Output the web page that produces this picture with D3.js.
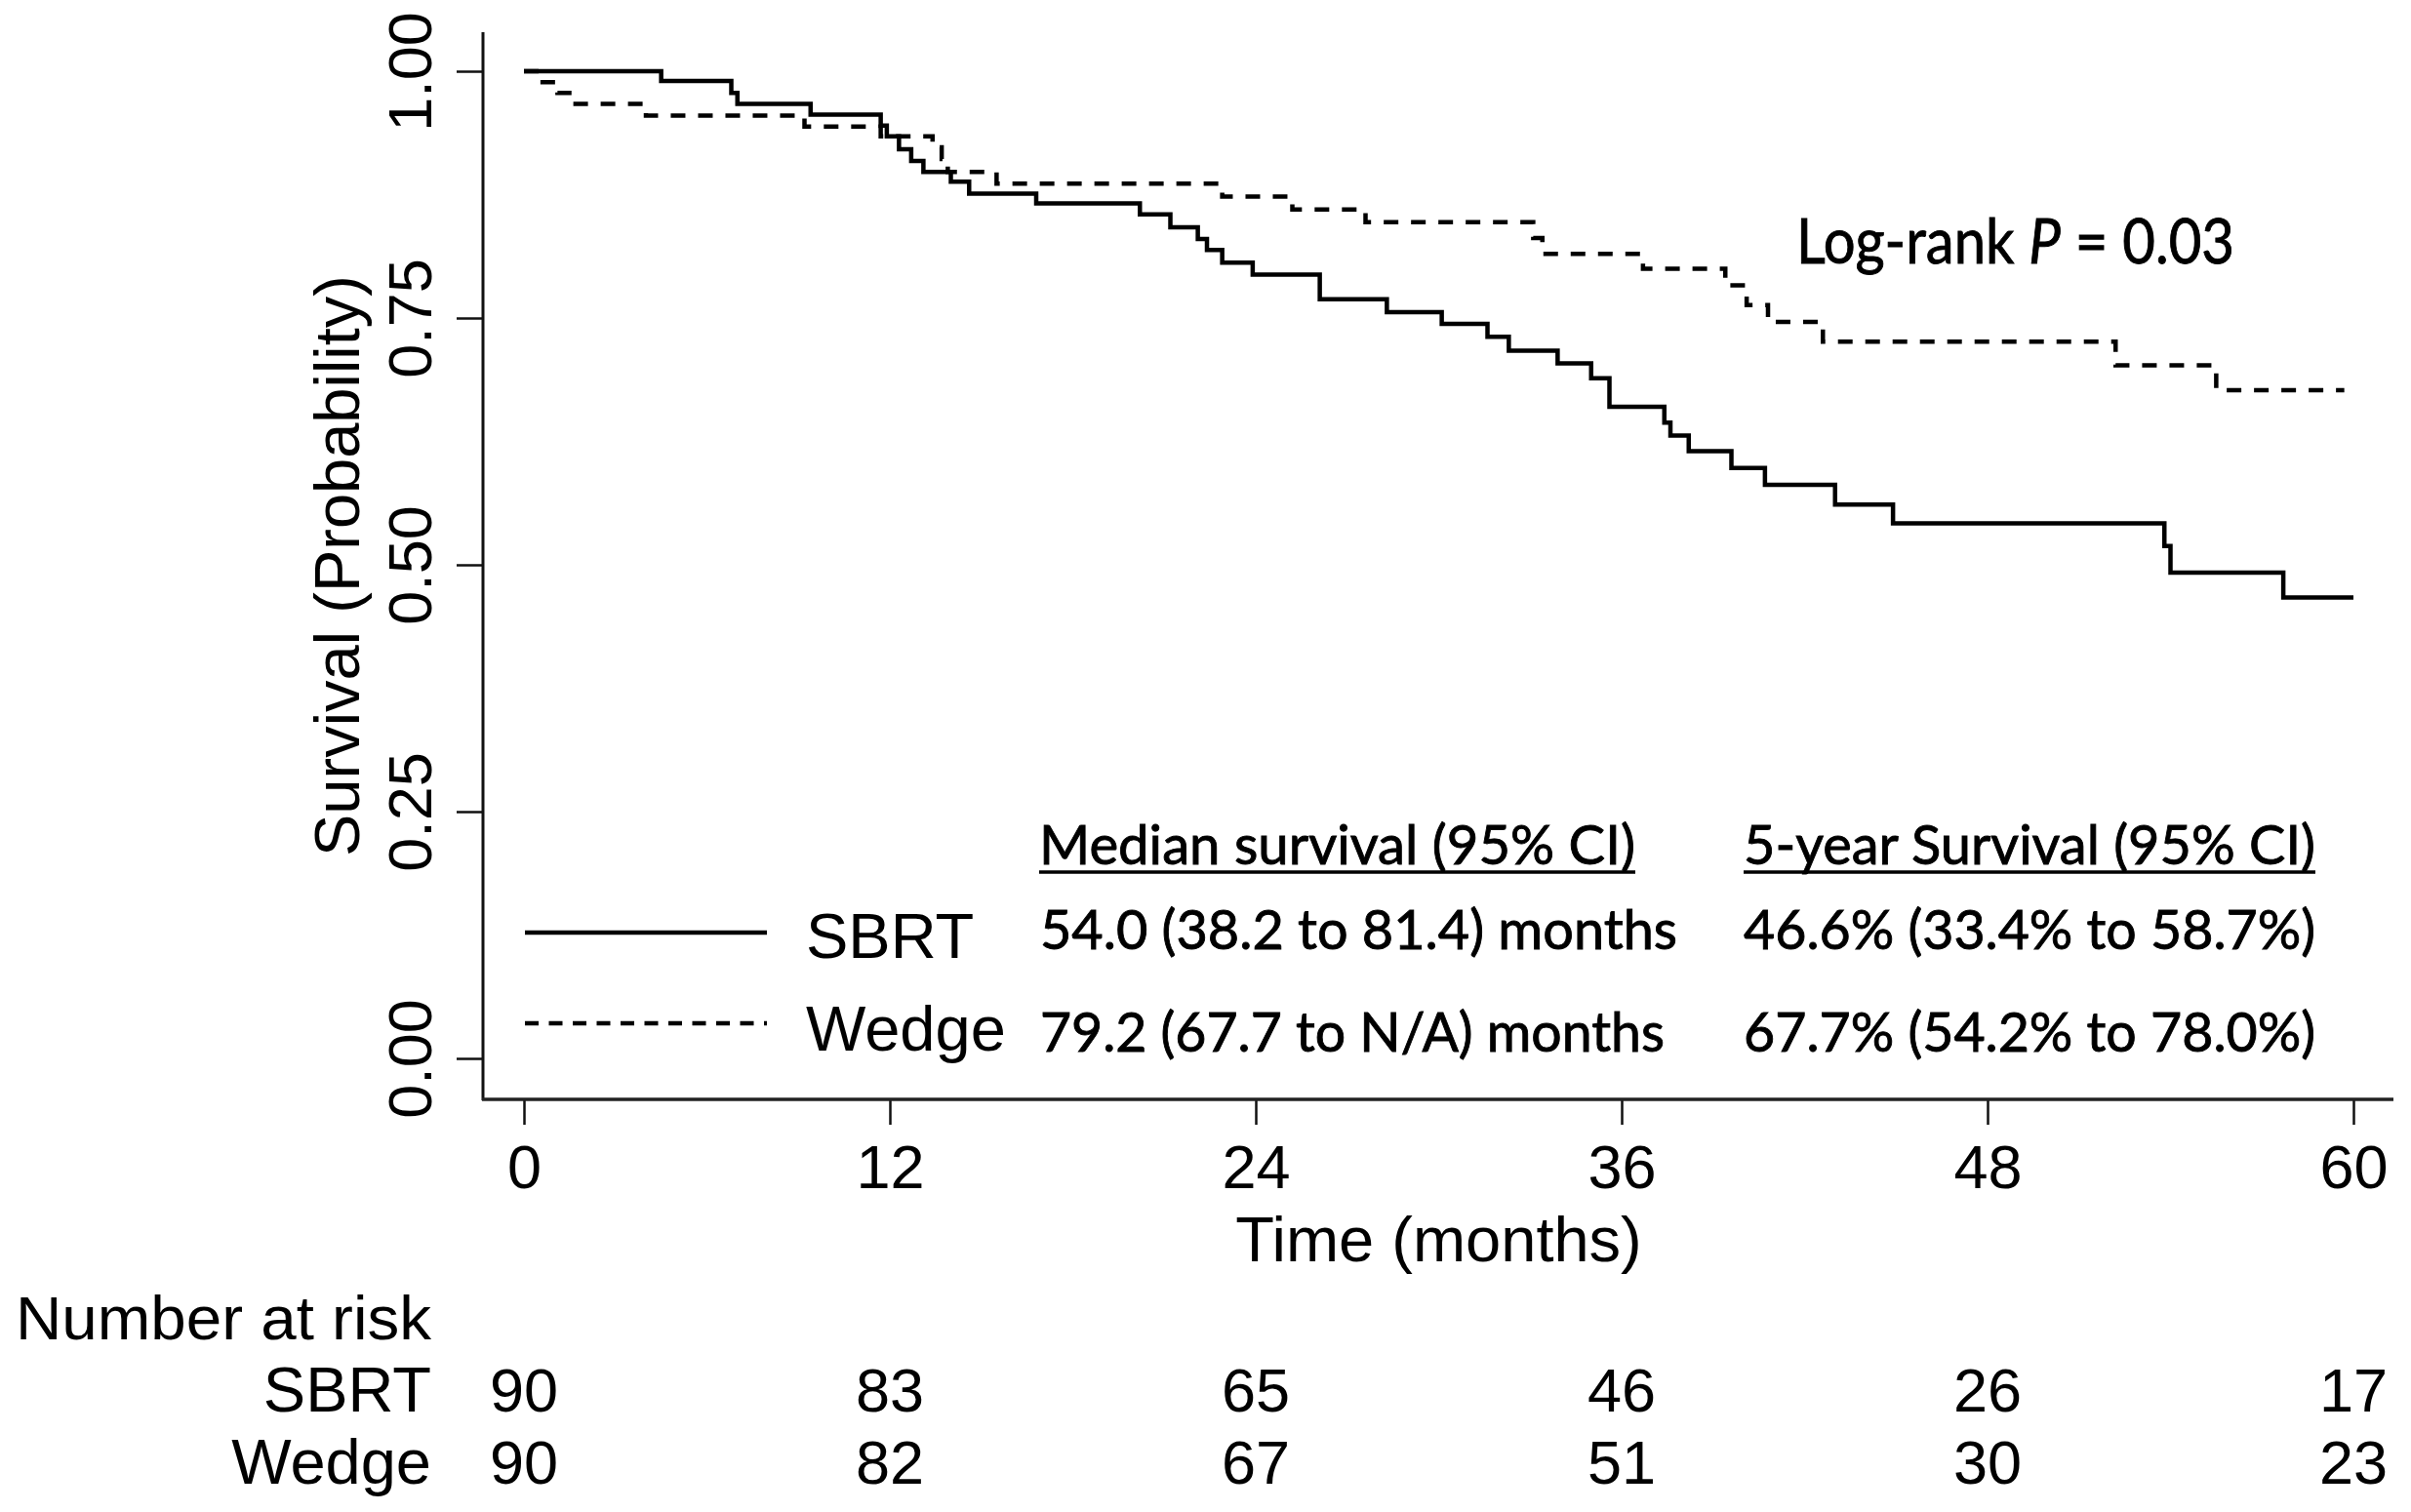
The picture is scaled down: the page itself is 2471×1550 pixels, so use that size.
<!DOCTYPE html>
<html>
<head>
<meta charset="utf-8">
<script src="https://cdn.jsdelivr.net/npm/d3@7"></script>
<style>
  body { margin: 0; background: #fff; }
  svg { display: block; }
</style>
</head>
<body>
<svg></svg>
<script>
// Defining variables
const width = 2471
const height = 1550

// Kaplan-Meier steps (months, survival probability)
const sbrtTimes = [0, 4.5, 6.8, 7.0, 9.4, 11.7, 11.9, 12.3, 12.7, 13.1, 14.0, 14.6, 16.8, 20.2, 21.2, 22.1, 22.4, 22.9, 23.9, 26.1, 28.3, 30.1, 31.6, 32.3, 33.9, 35.0, 35.6, 37.4, 37.6, 38.2, 39.6, 40.7, 43.0, 44.9, 53.8, 54.0, 57.7, 60.0]
const sbrtSurv = [1, 0.990, 0.978, 0.967, 0.956, 0.945, 0.934, 0.921, 0.909, 0.898, 0.888, 0.876, 0.866, 0.855, 0.842, 0.830, 0.819, 0.806, 0.794, 0.769, 0.756, 0.744, 0.731, 0.717, 0.704, 0.689, 0.660, 0.644, 0.631, 0.615, 0.598, 0.581, 0.561, 0.542, 0.519, 0.492, 0.467, 0.467]

const wedgeTimes = [0, 0.5, 1.1, 1.6, 4.0, 9.2, 11.7, 13.4, 13.7, 13.9, 15.5, 22.9, 25.2, 27.6, 33.1, 33.4, 36.7, 39.4, 40.1, 40.8, 42.6, 52.2, 55.5, 59.7]
const wedgeSurv = [1, 0.989, 0.978, 0.967, 0.955, 0.944, 0.934, 0.923, 0.911, 0.898, 0.886, 0.873, 0.860, 0.847, 0.831, 0.815, 0.800, 0.783, 0.763, 0.746, 0.726, 0.702, 0.677, 0.677]

const xTicks = [0, 12, 24, 36, 48, 60]
const yTicks = [0, 0.25, 0.5, 0.75, 1]

const groups = ['SBRT', 'Wedge']
const riskSBRT = [90, 83, 65, 46, 26, 17]
const riskWedge = [90, 82, 67, 51, 30, 23]

const tableHeaders = ['Median survival (95% CI)', '5-year Survival (95% CI)']
const medianText = ['54.0 (38.2 to 81.4) months', '79.2 (67.7 to N/A) months']
const fiveYearText = ['46.6% (33.4% to 58.7%)', '67.7% (54.2% to 78.0%)']

const helv = 'Liberation Sans, Arial, Helvetica, sans-serif'
const cal = 'Lato, Carlito, Calibri, sans-serif'

// Creating svg canvas
const svg = d3.select('svg')
              .attr('width', width)
              .attr('height', height)

svg.append('rect').attr('width', width).attr('height', height).attr('fill', '#fff')

// Scales
const xScale = d3.scaleLinear().domain([0, 60]).range([537, 2412])
const yScale = d3.scaleLinear().domain([0, 1]).range([1085, 73])

// Axes
let xAxis = d3.axisBottom(xScale).tickValues(xTicks).tickSize(25).tickSizeOuter(0)
svg.append('g')
    .attr('transform', 'translate(0, 1128)')
    .call(xAxis)
    .call(g => g.select('.domain').remove())
    .call(g => g.selectAll('line').attr('stroke', '#111').attr('stroke-width', 2.5))
    .call(g => g.selectAll('text')
        .attr('dy', null)
        .attr('y', 90)
        .attr('fill', '#000')
        .style('font-family', helv)
        .style('font-size', '63px'))

let yAxis = d3.axisLeft(yScale).tickValues(yTicks).tickSize(27).tickSizeOuter(0).tickFormat(d3.format('.2f'))
svg.append('g')
    .attr('transform', 'translate(495, 0)')
    .call(yAxis)
    .call(g => g.select('.domain').remove())
    .call(g => g.selectAll('line').attr('stroke', '#111').attr('stroke-width', 2.5))
    .call(g => g.selectAll('text')
        .attr('x', null)
        .attr('dy', null)
        .attr('text-anchor', 'middle')
        .attr('transform', 'translate(-53, 0) rotate(-90)')
        .attr('fill', '#000')
        .style('font-family', helv)
        .style('font-size', '63px'))

// axis lines
svg.append('line').attr('x1', 495).attr('x2', 495).attr('y1', 33).attr('y2', 1128)
    .attr('stroke', '#111').attr('stroke-width', 3)
svg.append('line').attr('x1', 494).attr('x2', 2453).attr('y1', 1127).attr('y2', 1127)
    .attr('stroke', '#222').attr('stroke-width', 3.5)

// axis titles
svg.append('text')
    .attr('transform', 'translate(368, 580) rotate(-90)')
    .attr('text-anchor', 'middle')
    .style('font-family', helv).style('font-size', '65px')
    .text('Survival (Probability)')

svg.append('text')
    .attr('x', xScale(30)).attr('y', 1293)
    .attr('text-anchor', 'middle')
    .style('font-family', helv).style('font-size', '65px')
    .text('Time (months)')

// survival curves
let stepLine = d3.line()
    .x(d => xScale(d[0]))
    .y(d => yScale(d[1]))
    .curve(d3.curveStepAfter)

svg.append('path')
    .datum(d3.zip(sbrtTimes, sbrtSurv))
    .attr('d', stepLine)
    .attr('fill', 'none')
    .attr('stroke', '#000')
    .attr('stroke-width', 4.5)

svg.append('path')
    .datum(d3.zip(wedgeTimes, wedgeSurv))
    .attr('d', stepLine)
    .attr('fill', 'none')
    .attr('stroke', '#000')
    .attr('stroke-width', 4.5)
    .attr('stroke-dasharray', '15,13')

// calibri-like text is a bit heavier in the original
let calText = (sel, size) => sel
    .style('font-family', cal).style('font-size', size)
    .attr('stroke', '#000').attr('stroke-width', 0.9)

// log-rank annotation
let lr = svg.append('text')
    .attr('x', 1841).attr('y', 270)
    .attr('textLength', 449).attr('lengthAdjust', 'spacingAndGlyphs')
    .call(calText, '64px')
    .text('Log-rank ')
lr.append('tspan').style('font-style', 'italic').text('P')
lr.append('tspan').text(' = 0.03')

// legend + summary table
const legendY = [956, 1049]
const labelBase = [982, 1077]
const rowBase = [973, 1078]

svg.append('line').attr('x1', 538).attr('x2', 786).attr('y1', legendY[0]).attr('y2', legendY[0])
    .attr('stroke', '#000').attr('stroke-width', 4.5)
svg.append('line').attr('x1', 538).attr('x2', 786).attr('y1', legendY[1]).attr('y2', legendY[1])
    .attr('stroke', '#000').attr('stroke-width', 4.5).attr('stroke-dasharray', '14,10.5')

groups.forEach((g, i) => {
    svg.append('text')
        .attr('x', 826).attr('y', labelBase[i])
        .style('font-family', helv).style('font-size', '65px')
        .text(g)
})

const colX = [[1065, 1676], [1787, 2373]]
const rowW = [[653, 640], [586, 586]]

tableHeaders.forEach((h, i) => {
    svg.append('text')
        .attr('x', colX[i][0]).attr('y', 886)
        .attr('textLength', colX[i][1] - colX[i][0]).attr('lengthAdjust', 'spacingAndGlyphs')
        .call(calText, '57px')
        .text(h)
    svg.append('line')
        .attr('x1', colX[i][0]).attr('x2', colX[i][1])
        .attr('y1', 894).attr('y2', 894)
        .attr('stroke', '#000').attr('stroke-width', 3.5)
})

medianText.forEach((t, i) => {
    svg.append('text')
        .attr('x', 1066).attr('y', rowBase[i])
        .attr('textLength', rowW[0][i]).attr('lengthAdjust', 'spacingAndGlyphs')
        .call(calText, '57px')
        .text(t)
})

fiveYearText.forEach((t, i) => {
    svg.append('text')
        .attr('x', 1787).attr('y', rowBase[i])
        .attr('textLength', rowW[1][i]).attr('lengthAdjust', 'spacingAndGlyphs')
        .call(calText, '57px')
        .text(t)
})

// number at risk table
svg.append('text')
    .attr('x', 16).attr('y', 1373)
    .attr('textLength', 426).attr('lengthAdjust', 'spacingAndGlyphs')
    .style('font-family', helv).style('font-size', '63px')
    .text('Number at risk')

const riskRows = [riskSBRT, riskWedge]
const riskBase = [1447, 1521]

riskRows.forEach((row, i) => {
    svg.append('text')
        .attr('x', 442).attr('y', riskBase[i])
        .attr('text-anchor', 'end')
        .style('font-family', helv).style('font-size', '65px')
        .text(groups[i])

    svg.selectAll('.risk' + i)
        .data(row)
        .enter()
        .append('text')
        .attr('class', 'risk' + i)
        .attr('x', (d, j) => xScale(xTicks[j]))
        .attr('y', riskBase[i])
        .attr('text-anchor', 'middle')
        .style('font-family', helv).style('font-size', '63px')
        .text(d => d)
})
</script>
</body>
</html>
